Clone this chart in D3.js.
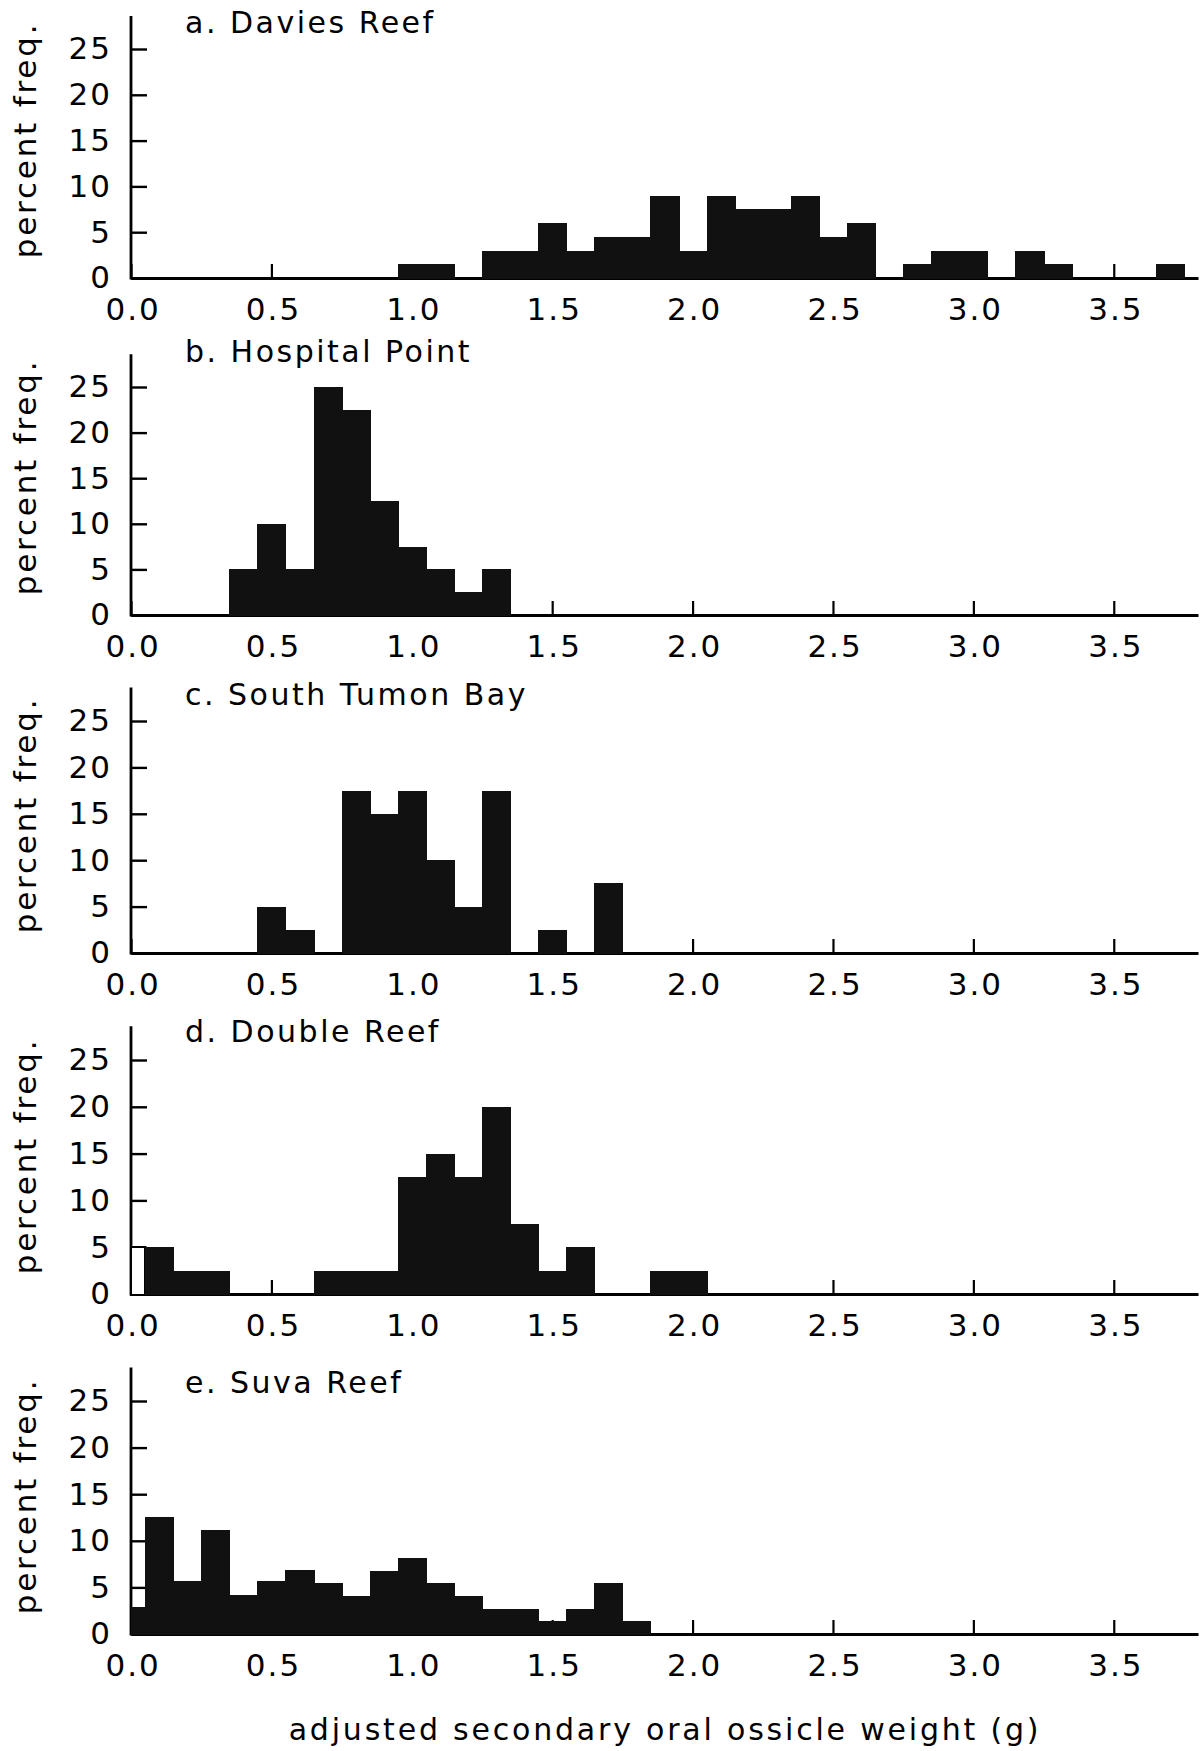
<!DOCTYPE html>
<html>
<head>
<meta charset="utf-8">
<script src="https://cdn.jsdelivr.net/npm/d3@7"></script>
<style>
  html, body { margin: 0; padding: 0; background: #fff; }
  svg { display: block; }
  text { font-family: "DejaVu Sans", sans-serif; fill: #000; }
</style>
</head>
<body>
<svg id="chart" width="1203" height="1751"></svg>
<script>
// ---- data (percent frequency per 0.1 g bin, bin centres below) ----
const binCenters = [0.0, 0.1, 0.2, 0.3, 0.4, 0.5, 0.6, 0.7, 0.8, 0.9,
                    1.0, 1.1, 1.2, 1.3, 1.4, 1.5, 1.6, 1.7, 1.8, 1.9,
                    2.0, 2.1, 2.2, 2.3, 2.4, 2.5, 2.6, 2.7, 2.8, 2.9,
                    3.0, 3.1, 3.2, 3.3, 3.4, 3.5, 3.6, 3.7];

const daviesReef    = [0, 0, 0, 0, 0, 0, 0, 0, 0, 0,
                       1.5, 1.5, 0, 3, 3, 6, 3, 4.5, 4.5, 9,
                       3, 9, 7.5, 7.5, 9, 4.5, 6, 0, 1.5, 3,
                       3, 0, 3, 1.5, 0, 0, 0, 1.5];
const hospitalPoint = [0, 0, 0, 0, 5, 10, 5, 25, 22.5, 12.5,
                       7.5, 5, 2.5, 5, 0, 0, 0, 0, 0, 0,
                       0, 0, 0, 0, 0, 0, 0, 0, 0, 0,
                       0, 0, 0, 0, 0, 0, 0, 0];
const southTumonBay = [0, 0, 0, 0, 0, 5, 2.5, 0, 17.5, 15,
                       17.5, 10, 5, 17.5, 0, 2.5, 0, 7.5, 0, 0,
                       0, 0, 0, 0, 0, 0, 0, 0, 0, 0,
                       0, 0, 0, 0, 0, 0, 0, 0];
const doubleReef    = [5, 5, 2.5, 2.5, 0, 0, 0, 2.5, 2.5, 2.5,
                       12.5, 15, 12.5, 20, 7.5, 2.5, 5, 0, 0, 2.5,
                       2.5, 0, 0, 0, 0, 0, 0, 0, 0, 0,
                       0, 0, 0, 0, 0, 0, 0, 0];
const suvaReef      = [2.9, 12.6, 5.7, 11.2, 4.2, 5.7, 6.9, 5.5, 4.1, 6.8,
                       8.2, 5.5, 4.1, 2.7, 2.7, 1.4, 2.7, 5.5, 1.4, 0,
                       0, 0, 0, 0, 0, 0, 0, 0, 0, 0,
                       0, 0, 0, 0, 0, 0, 0, 0];
// bins drawn as open (unfilled) outlines
const doubleReefOpenBins = [0.0];

const panelTitles = ["a. Davies Reef", "b. Hospital Point", "c. South Tumon Bay",
                     "d. Double Reef", "e. Suva Reef"];
const xTickValues = [0.0, 0.5, 1.0, 1.5, 2.0, 2.5, 3.0, 3.5];
const yTickValues = [0, 5, 10, 15, 20, 25];
const yAxisTitle = "percent freq.";
const xAxisTitle = "adjusted secondary oral ossicle weight (g)";

// ---- layout ----
const binWidth = 0.1;
const xDomain = [0, 3.8];
const yTop = 28.6;
const panelLayout = [
  { base: 278,  top25: 49,   titleY: 33 },
  { base: 615,  top25: 387,  titleY: 362 },
  { base: 953,  top25: 721,  titleY: 705 },
  { base: 1294, top25: 1060, titleY: 1042 },
  { base: 1634, top25: 1401, titleY: 1393 }
];
const panelSeries = [daviesReef, hospitalPoint, southTumonBay, doubleReef, suvaReef];
const panelOpen = [[], [], [], doubleReefOpenBins, []];

const svg = d3.select("#chart");
const x = d3.scaleLinear().domain(xDomain).range([131, 1198]);

panelSeries.forEach((vals, i) => {
  const L = panelLayout[i];
  const y = d3.scaleLinear().domain([0, 25]).range([L.base, L.top25]);
  const g = svg.append("g");

  // x axis (ticks point up into the plot)
  const xAxis = d3.axisBottom(x)
    .tickValues(xTickValues)
    .tickFormat(d3.format(".1f"))
    .tickSizeInner(-14)
    .tickSizeOuter(0)
    .tickPadding(20);
  const gx = g.append("g").attr("transform", `translate(0,${L.base})`).call(xAxis);
  gx.select(".domain").attr("stroke-width", 3);
  gx.selectAll(".tick line").attr("stroke-width", 2.2);
  gx.selectAll(".tick text")
    .attr("font-size", 31).attr("letter-spacing", 2)
    .attr("font-family", "DejaVu Sans, sans-serif").attr("dx", "0.05em");

  // y axis (ticks point right into the plot)
  const yAxis = d3.axisLeft(y)
    .tickValues(yTickValues)
    .tickSizeInner(-16)
    .tickSizeOuter(0)
    .tickPadding(19);
  const gy = g.append("g").attr("transform", `translate(${x(0)},0)`).call(yAxis);
  gy.select(".domain").remove();
  gy.append("line")
    .attr("x1", 0).attr("x2", 0)
    .attr("y1", y(0) + 1.5).attr("y2", y(yTop))
    .attr("stroke", "#000").attr("stroke-width", 2.8);
  gy.selectAll(".tick line").attr("stroke-width", 2.4);
  gy.selectAll(".tick text")
    .attr("font-size", 31).attr("letter-spacing", 2)
    .attr("font-family", "DejaVu Sans, sans-serif");

  // bars
  const data = binCenters.map((c, k) => ({ c, v: vals[k], open: panelOpen[i].includes(c) }))
                         .filter(d => d.v > 0);
  const x0 = d => Math.round(x(Math.max(xDomain[0], d.c - binWidth / 2)));
  const x1 = d => Math.round(x(d.c + binWidth / 2));
  g.append("g").attr("shape-rendering", "crispEdges")
    .selectAll("rect").data(data).join("rect")
    .attr("x", x0)
    .attr("width", d => x1(d) - x0(d) + (d.open ? 0 : 1))
    .attr("y", d => Math.round(y(d.v)))
    .attr("height", d => Math.round(y(0)) - Math.round(y(d.v)) + 1)
    .attr("fill", d => d.open ? "#fff" : "#111")
    .attr("stroke", d => d.open ? "#000" : "none")
    .attr("stroke-width", 2);

  // panel title
  g.append("text")
    .attr("x", 185).attr("y", L.titleY)
    .attr("font-size", 30).attr("letter-spacing", 2.5)
    .text(panelTitles[i]);

  // y-axis title
  g.append("text")
    .attr("transform", `translate(36,${L.base - 138}) rotate(-90)`)
    .attr("text-anchor", "middle")
    .attr("font-size", 31).attr("letter-spacing", 2.8)
    .text(yAxisTitle);
});

// x-axis title
svg.append("text")
  .attr("x", 665).attr("y", 1740)
  .attr("text-anchor", "middle")
  .attr("font-size", 30).attr("letter-spacing", 2.8)
  .text(xAxisTitle);
</script>
</body>
</html>
